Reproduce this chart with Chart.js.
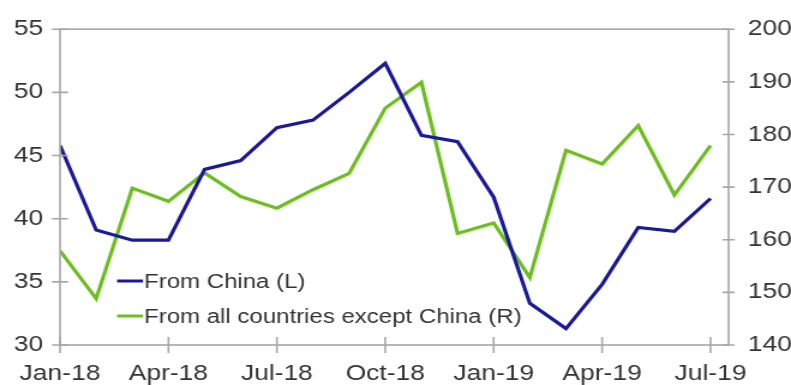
<!DOCTYPE html>
<html>
<head>
<meta charset="utf-8">
<script src="https://cdn.jsdelivr.net/npm/chart.js@4"></script>
<style>
    html, body { margin: 0; padding: 0; background: #fff; }
</style>
</head>
<body>
<!-- the reference is horizontally stretched, so the canvas is drawn narrower and widened by css -->
<canvas id="chart" width="659" height="385" style="width: 791px; height: 385px; display: block;"></canvas>
<script>
const months = ['Jan-18', 'Feb-18', 'Mar-18', 'Apr-18', 'May-18', 'Jun-18', 'Jul-18', 'Aug-18', 'Sep-18', 'Oct-18',
    'Nov-18', 'Dec-18', 'Jan-19', 'Feb-19', 'Mar-19', 'Apr-19', 'May-19', 'Jun-19', 'Jul-19']
const fromChina = [45.8, 39.1, 38.3, 38.3, 43.9, 44.6, 47.2, 47.8, 50.0, 52.3, 46.6, 46.1, 41.7, 33.3, 31.3, 34.8, 39.3, 39.0, 41.6]
const exceptChina = [157.9, 148.8, 169.8, 167.3, 172.7, 168.2, 166.0, 169.5, 172.6, 185.0, 189.9, 161.2, 163.2, 152.8, 177.0, 174.4, 181.7, 168.5, 177.9]
const seriesLabels = ['From China (L)', 'From all countries except China (R)']
const labelEvery = 3

const sx = 1 / 1.2  // horizontal squeeze factor for things measured on the picture
const axisColor = '#a6a6a6'
const textColor = '#333333'
const blue = '#1a1a99'
const green = '#6cbf1e'
const tickFont = { family: '"Liberation Sans", Arial, sans-serif', size: 22 }

// frame + tick marks that cross the axis lines
const framePlugin = {
    id: 'frame',
    afterDraw(chart) {
        const ctx = chart.ctx
        const a = chart.chartArea
        ctx.save()
        ctx.strokeStyle = axisColor
        ctx.lineWidth = 1.6
        ctx.strokeRect(a.left, a.top, a.right - a.left, a.bottom - a.top)
        ctx.beginPath()
        chart.scales.x.ticks.forEach(t => {
            const px = chart.scales.x.getPixelForValue(t.value)
            ctx.moveTo(px, a.bottom - 8)
            ctx.lineTo(px, a.bottom + 8)
        })
        chart.scales.yL.ticks.forEach(t => {
            const py = chart.scales.yL.getPixelForValue(t.value)
            ctx.moveTo(a.left - 8 * sx, py)
            ctx.lineTo(a.left + 8 * sx, py)
        })
        chart.scales.yR.ticks.forEach(t => {
            const py = chart.scales.yR.getPixelForValue(t.value)
            ctx.moveTo(a.right - 6 * sx, py)
            ctx.lineTo(a.right + 6 * sx, py)
        })
        ctx.stroke()
        ctx.restore()
    }
}

// legend inside the plot, lower left
const legendPlugin = {
    id: 'innerLegend',
    afterDatasetsDraw(chart) {
        const ctx = chart.ctx
        const rows = [281, 316]
        ctx.save()
        ctx.font = '20px "Liberation Sans", Arial, sans-serif'
        ctx.textBaseline = 'middle'
        chart.data.datasets.forEach((ds, i) => {
            ctx.strokeStyle = ds.borderColor
            ctx.lineWidth = 3
            ctx.beginPath()
            ctx.moveTo(117 * sx, rows[i])
            ctx.lineTo(143 * sx, rows[i])
            ctx.stroke()
            ctx.fillStyle = textColor
            ctx.fillText(ds.label, 144 * sx, rows[i] + 1)
        })
        ctx.restore()
    }
}

const ctx = document.getElementById('chart').getContext('2d')
new Chart(ctx, {
    type: 'line',
    data: {
        datasets: [{
            label: seriesLabels[0],
            data: fromChina.map((v, i) => ({ x: i, y: v })),
            yAxisID: 'yL',
            borderColor: blue,
            borderWidth: 3.2,
            pointRadius: 0,
            tension: 0
        }, {
            label: seriesLabels[1],
            data: exceptChina.map((v, i) => ({ x: i, y: v })),
            yAxisID: 'yR',
            borderColor: green,
            borderWidth: 3.2,
            pointRadius: 0,
            tension: 0
        }]
    },
    options: {
        responsive: false,
        animation: false,
        layout: { padding: { top: 17, left: 0, right: 0, bottom: 0 } },
        plugins: {
            legend: { display: false },
            tooltip: { enabled: false }
        },
        scales: {
            x: {
                type: 'linear',
                min: 0,
                max: months.length - 0.5,
                grid: { display: false, drawTicks: false },
                border: { display: false },
                afterBuildTicks: axis => {
                    axis.ticks = months.map((m, i) => i).filter(i => i % labelEvery === 0).map(i => ({ value: i }))
                },
                afterFit: axis => { axis.height = 40 },
                ticks: {
                    padding: 16,
                    maxRotation: 0,
                    autoSkip: false,
                    color: textColor,
                    font: tickFont,
                    callback: v => months[v]
                }
            },
            yL: {
                position: 'left',
                min: 30,
                max: 55,
                grid: { display: false, drawTicks: false },
                border: { display: false },
                afterFit: axis => { axis.width = 50 },
                ticks: {
                    stepSize: 5,
                    padding: 14,
                    color: textColor,
                    font: tickFont
                }
            },
            yR: {
                position: 'right',
                min: 140,
                max: 200,
                grid: { display: false, drawTicks: false },
                border: { display: false },
                afterFit: axis => { axis.width = 52 },
                ticks: {
                    stepSize: 10,
                    padding: 16,
                    color: textColor,
                    font: tickFont
                }
            }
        }
    },
    plugins: [framePlugin, legendPlugin]
})
</script>
</body>
</html>
